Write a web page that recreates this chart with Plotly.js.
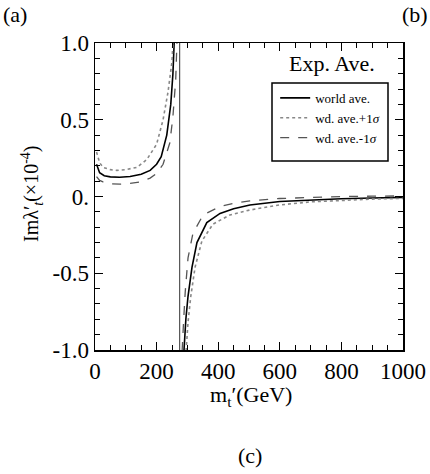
<!DOCTYPE html>
<html><head><meta charset="utf-8">
<script src="https://cdn.plot.ly/plotly-3.0.1.min.js"></script>
<style>html,body{margin:0;padding:0;background:#fff}#plot{width:430px;height:474px}</style>
</head><body><div id="plot"></div>
<script>
// world ave. (solid)
const solidX = [5, 15, 30, 50, 80, 114, 150, 179, 200, 215, 233, 246, 253, 257, 262, null, 284, 289, 295, 302, 315, 331, 363, 406, 450, 503, 600, 700, 800, 900, 1000];
const solidY = [0.21, 0.155, 0.135, 0.128, 0.125, 0.13, 0.145, 0.17, 0.21, 0.26, 0.4, 0.6, 0.8, 1.0, 3, null, -3, -1.0, -0.8, -0.65, -0.46, -0.30, -0.17, -0.11, -0.08, -0.055, -0.033, -0.022, -0.015, -0.01, -0.006];
// wd. ave.+1sigma (dotted)
const plusX = [5, 15, 26, 50, 71, 100, 136, 168, 200, 221, 237, 250, 253, 258, null, 291, 296, 302, 311, 325, 347, 383, 438, 503, 600, 700, 800, 900, 1000];
const plusY = [0.29, 0.22, 0.19, 0.175, 0.17, 0.175, 0.19, 0.24, 0.34, 0.5, 0.68, 0.88, 1.0, 3, null, -3, -1.0, -0.82, -0.65, -0.46, -0.29, -0.18, -0.12, -0.088, -0.055, -0.035, -0.024, -0.017, -0.012];
// wd. ave.-1sigma (dashed)
const minusX = [5, 15, 26, 50, 81, 114, 146, 179, 200, 221, 243, 253, 262, 266, 270, null, 279, 283, 288, 293, 302, 318, 351, 406, 450, 503, 600, 700, 800, 900, 1000];
const minusY = [0.13, 0.105, 0.095, 0.083, 0.08, 0.085, 0.095, 0.12, 0.15, 0.21, 0.35, 0.52, 0.76, 1.0, 3, null, -3, -1.0, -0.8, -0.62, -0.4, -0.24, -0.12, -0.065, -0.045, -0.028, -0.013, -0.005, 0.0, 0.002, 0.004];
// pole of the world-average curve (divergence from +inf to -inf)
const poleX = [275, 275];
const poleY = [60, -60];

const yTickVals = [-1, -0.5, 0, 0.5, 1];
const yTickText = ['-1.0', '-0.5', '0.', '0.5', '1.0'];
const xTickVals = [0, 200, 400, 600, 800, 1000];
const xTickText = ['0', '200', '400', '600', '800', '1000'];
const xTitle = 'm<sub>t</sub>′(GeV)';
const yTitle = 'Imλ′<sub><i>t</i></sub>(×10<sup>-4</sup>)';

const serif = 'Liberation Serif, Times New Roman, serif';

const traces = [
  {x: solidX, y: solidY, mode: 'lines', name: 'world ave.', line: {color: '#000', width: 1.6}},
  {x: plusX, y: plusY, mode: 'lines', name: 'wd. ave.+1<i>σ</i>', line: {color: '#888', width: 1.6, dash: 'dot'}},
  {x: minusX, y: minusY, mode: 'lines', name: 'wd. ave.-1<i>σ</i>', line: {color: '#555', width: 1.3, dash: 'dash'}},
  {x: poleX, y: poleY, mode: 'lines', showlegend: false, line: {color: '#333', width: 1}}
];

const axisCommon = {
  showgrid: false, zeroline: false, showline: true, linecolor: '#000', linewidth: 1.5,
  mirror: 'allticks', ticks: 'inside', ticklen: 8, tickwidth: 1.2, tickcolor: '#000',
  tickfont: {family: serif, size: 23, color: '#000'}
};

const layout = {
  width: 430, height: 474,
  margin: {l: 95, r: 27, t: 43, b: 124},
  paper_bgcolor: '#fff', plot_bgcolor: '#fff',
  font: {family: serif, color: '#000'},
  showlegend: true,
  legend: {x: 0.585, y: 0.87, xanchor: 'left', yanchor: 'top', bgcolor: 'rgba(0,0,0,0)',
           font: {family: serif, size: 13, color: '#000'}, tracegroupgap: 0},
  xaxis: Object.assign({}, axisCommon, {
    range: [0, 1000], tickmode: 'array', tickvals: xTickVals, ticktext: xTickText,
    minor: {dtick: 50, ticks: 'inside', ticklen: 5, tickcolor: '#000', tickwidth: 1}
  }),
  yaxis: Object.assign({}, axisCommon, {
    range: [-1, 1], tickmode: 'array', tickvals: yTickVals, ticktext: yTickText,
    minor: {dtick: 0.1, ticks: 'inside', ticklen: 5, tickcolor: '#000', tickwidth: 1}
  }),
  shapes: [
    {type: 'rect', xref: 'paper', yref: 'paper', x0: (272-95)/308, x1: (388-95)/308,
     y0: (350-161)/307, y1: (350-83)/307, line: {color: '#000', width: 1.5}}
  ],
  annotations: [
    {text: xTitle, xref: 'paper', yref: 'paper', x: (251-95)/308, y: (350-396)/307,
     xanchor: 'center', yanchor: 'middle', showarrow: false,
     font: {family: serif, size: 22, color: '#000'}},
    {text: yTitle, xref: 'paper', yref: 'paper', x: (32-95)/308, y: (350-194)/307, textangle: -90,
     xanchor: 'center', yanchor: 'middle', showarrow: false,
     font: {family: serif, size: 20, color: '#000'}},
    {text: 'Exp. Ave.', xref: 'paper', yref: 'paper', x: (332-95)/308, y: (350-63)/307,
     xanchor: 'center', yanchor: 'middle',
     showarrow: false, font: {family: serif, size: 22, color: '#000'}},
    {text: '(a)', xref: 'paper', yref: 'paper', x: -94/308, y: (350-15)/307, xanchor: 'left', yanchor: 'middle',
     showarrow: false, font: {family: serif, size: 22, color: '#000'}},
    {text: '(b)', xref: 'paper', yref: 'paper', x: (430-95)/308, y: (350-15)/307, xanchor: 'right', yanchor: 'middle',
     showarrow: false, font: {family: serif, size: 22, color: '#000'}},
    {text: '(c)', xref: 'paper', yref: 'paper', x: (250-95)/308, y: (350-455)/307, xanchor: 'center', yanchor: 'middle',
     showarrow: false, font: {family: serif, size: 22, color: '#000'}}
  ]
};

Plotly.newPlot('plot', traces, layout, {displayModeBar: false, staticPlot: true});
</script>
</body></html>
